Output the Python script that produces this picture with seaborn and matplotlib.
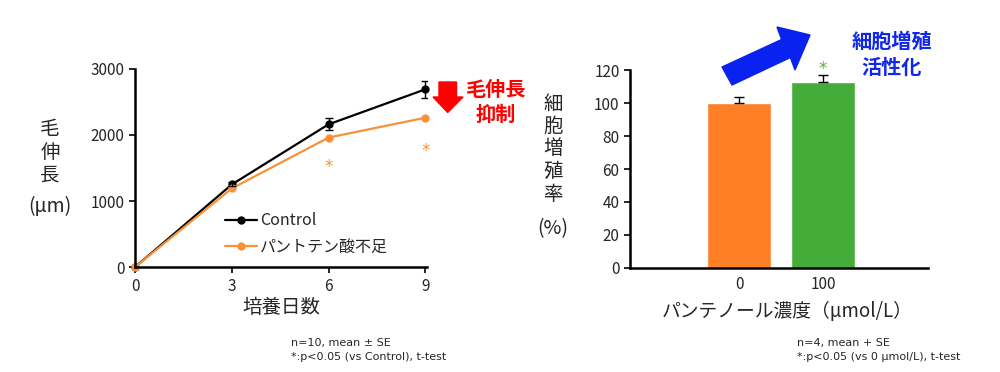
import numpy as np
import pandas as pd
import seaborn as sns
import matplotlib.pyplot as plt
from matplotlib.patches import Polygon

# hair growth data (left panel)
days = [0, 3, 6, 9]
control_mean = [0, 1250, 2160, 2690]
control_se = [0, 30, 90, 130]
deficient_mean = [0, 1190, 1960, 2260]
groups = ['Control', 'パントテン酸不足']
sig_days = [6, 9]
sig_y = [1520, 1760]

# cell proliferation data (right panel)
conc_labels = ['0', '100']
prolif_mean = [100, 113]
prolif_se = [3.5, 4]

orange_line = '#F7923A'
orange_bar = '#FF7F27'
green_bar = '#44AD3A'

sns.set_style('ticks')
plt.rcParams['font.family'] = ['Noto Sans CJK JP', 'DejaVu Sans']

fig = plt.figure(figsize=(10, 3.72), dpi=100)
W, H = 1000, 372

def fx(x):
    return x / W

def fy(y):
    return 1 - y / H

# ---- left panel
ax1 = fig.add_axes([0.135, 0.282, 0.292, 0.533])
df = pd.DataFrame({'day': days * 2,
                   'value': control_mean + deficient_mean,
                   'group': [groups[0]] * 4 + [groups[1]] * 4})
sns.lineplot(data=df, x='day', y='value', hue='group',
             palette=['black', orange_line], marker='o', markersize=6,
             markeredgewidth=0, linewidth=1.6, ax=ax1, clip_on=False)
ax1.errorbar(days, control_mean, yerr=control_se, fmt='none', ecolor='black',
             elinewidth=1, capsize=3)
for d, y in zip(sig_days, sig_y):
    ax1.text(d, y, '*', color=orange_line, ha='center', va='center',
             fontsize=12, family='DejaVu Sans')
ax1.set_xlim(0, 9.05)
ax1.set_ylim(0, 3000)
ax1.set_xticks(days)
ax1.set_yticks([0, 1000, 2000, 3000])
ax1.set_xlabel('培養日数', fontsize=14, labelpad=2)
ax1.set_ylabel('')
ax1.tick_params(labelsize=11, width=1.2, length=4, color='black')
for s in ['top', 'right']:
    ax1.spines[s].set_visible(False)
for s in ['left', 'bottom']:
    ax1.spines[s].set_linewidth(1.8)
    ax1.spines[s].set_color('black')
ax1.legend(loc='lower left', bbox_to_anchor=(0.26, -0.015), frameon=False,
           fontsize=11.5, handlelength=2.0, handletextpad=0.2,
           labelspacing=0.6)

fig.text(fx(50), fy(152), '毛\n伸\n長', ha='center', va='center',
         fontsize=14, linespacing=1.1)
fig.text(fx(50), fy(207), '(μm)', ha='center', va='center', fontsize=14)

# red arrow + text
red = Polygon([[fx(439), fy(82)], [fx(456.5), fy(82)], [fx(456.5), fy(97)],
               [fx(463), fy(97)], [fx(447.7), fy(112.5)], [fx(433), fy(97)],
               [fx(439), fy(97)]], closed=True, color='#FF0000',
              transform=fig.transFigure)
fig.patches.append(red)
fig.text(fx(496), fy(89), '毛伸長', color='#FF0000', ha='center', va='center',
         fontsize=14.5, fontweight='bold')
fig.text(fx(496), fy(114), '抑制', color='#FF0000', ha='center', va='center',
         fontsize=14.5, fontweight='bold')

fig.text(fx(291), fy(343), 'n=10, mean ± SE', fontsize=8, va='center',
         family='DejaVu Sans')
fig.text(fx(291), fy(356.5), '*:p<0.05 (vs Control), t-test', fontsize=8,
         va='center', family='DejaVu Sans')

# ---- right panel
ax2 = fig.add_axes([0.630, 0.280, 0.298, 0.531])
bdf = pd.DataFrame({'conc': conc_labels, 'value': prolif_mean})
sns.barplot(data=bdf, x='conc', y='value', hue='conc',
            palette=[orange_bar, green_bar], width=0.77, legend=False,
            errorbar=None, saturation=1, ax=ax2)
ax2.errorbar([0, 1], prolif_mean, yerr=[[0, 0], prolif_se], fmt='none',
             ecolor='black', elinewidth=1, capsize=3.5)
ax2.text(1, 120.5, '*', color='#6BA33A', ha='center', va='center',
         fontsize=12, family='DejaVu Sans')
ax2.set_xlim(-1.30, 2.25)
ax2.set_ylim(0, 120)
ax2.set_yticks(range(0, 121, 20))
ax2.set_xlabel('パンテノール濃度（μmol/L）', fontsize=13.5, labelpad=2)
ax2.xaxis.set_label_coords((787 - 630) / 298, -0.17)
ax2.set_ylabel('')
ax2.tick_params(axis='y', labelsize=11, width=1.2, length=4, color='black')
ax2.tick_params(axis='x', labelsize=11, length=0, pad=6)
for s in ['top', 'right']:
    ax2.spines[s].set_visible(False)
for s in ['left', 'bottom']:
    ax2.spines[s].set_linewidth(1.8)
    ax2.spines[s].set_color('black')

fig.text(fx(553), fy(149), '細\n胞\n増\n殖\n率', ha='center', va='center',
         fontsize=14, linespacing=1.1)
fig.text(fx(553), fy(229), '(%)', ha='center', va='center', fontsize=14)

# blue arrow + text
blue_px = [(722, 67), (781.6, 39.5), (777, 27), (810, 35), (795, 70),
           (790.4, 57.5), (732, 85)]
blue = Polygon([[fx(x), fy(y)] for x, y in blue_px], closed=True,
               color='#0A22F0', transform=fig.transFigure)
fig.patches.append(blue)
fig.text(fx(892), fy(41), '細胞増殖', color='#1028E8', ha='center', va='center',
         fontsize=14.5, fontweight='bold')
fig.text(fx(892), fy(67), '活性化', color='#1028E8', ha='center', va='center',
         fontsize=14.5, fontweight='bold')

fig.text(fx(797), fy(343), 'n=4, mean + SE', fontsize=8, va='center',
         family='DejaVu Sans')
fig.text(fx(797), fy(356.5), '*:p<0.05 (vs 0 μmol/L), t-test', fontsize=8,
         va='center', family='DejaVu Sans')

fig.savefig('out.png', dpi=100)
